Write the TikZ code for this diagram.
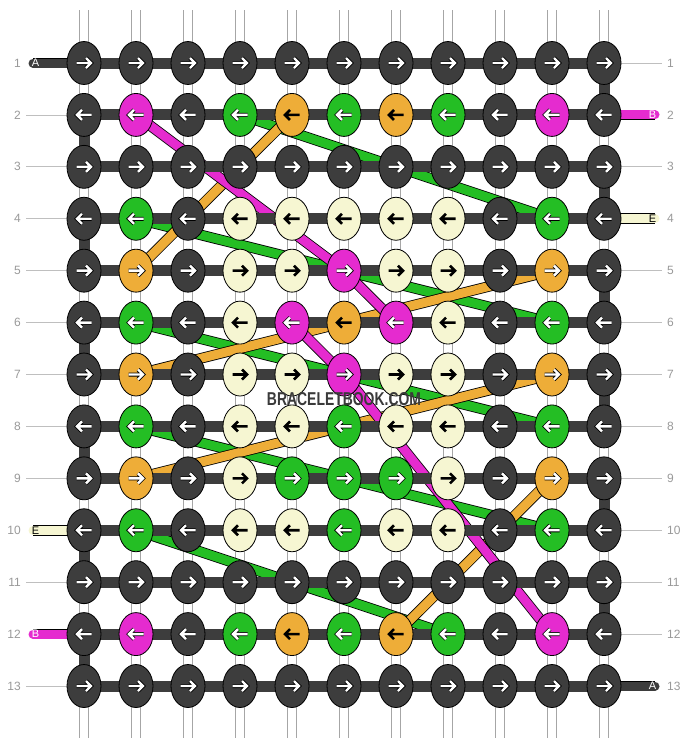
\documentclass[tikz,border=0pt]{standalone}
\usepackage{fontspec}
\setmainfont{Liberation Sans}
\usetikzlibrary{shapes.geometric}

\definecolor{colD}{HTML}{3D3D3D}
\definecolor{colM}{HTML}{E52BCF}
\definecolor{colG}{HTML}{24BE24}
\definecolor{colO}{HTML}{EEAD38}
\definecolor{colP}{HTML}{EEAD38}
\definecolor{colC}{HTML}{F6F6D2}
\definecolor{labelgrey}{HTML}{999999}
\definecolor{logogrey}{HTML}{3A3A3A}

\pgfdeclarelayer{strings}
\pgfdeclarelayer{diag}
\pgfdeclarelayer{bars}
\pgfsetlayers{strings,diag,bars,main}

\newcommand{\logotext}{\resizebox{154pt}{13pt}{\bfseries BRACELETBOOK.COM}}

\tikzset{
  knot/.style={ellipse, draw=black, line width=0.8pt, minimum width=34pt, minimum height=43pt, inner sep=0pt},
  warp/.style={draw=white, line width=8.6pt, line cap=round, preaction={draw=black!35, line width=10.4pt}},
  bar/.style={draw=colD, line width=11pt},
  diagline/.style={line width=9pt, preaction={draw=black, line width=10.6pt}},
  endline/.style={line width=9pt, line cap=round, preaction={draw=black, line width=10.6pt}},
  whitearrow/.style={draw=white, line width=2.4pt, preaction={draw=black, line width=4pt}},
  blackarrow/.style={draw=black, line width=2.6pt},
  arrD/.style={whitearrow}, arrM/.style={whitearrow}, arrG/.style={whitearrow},
  arrO/.style={whitearrow}, arrC/.style={blackarrow}, arrP/.style={blackarrow},
  rowlabel/.style={text=labelgrey, font=\fontsize{12}{12}\selectfont, inner sep=0pt},
  endletter/.style={font=\fontsize{11}{11}\selectfont, inner sep=0pt},
  gridline/.style={draw=black!25, line width=0.8pt}
}

\begin{document}
\begin{tikzpicture}[x=1pt, y=-1pt]
  \useasboundingbox (0,0) rectangle (688,748);

  % Knoten setzen (D dunkel, M magenta, G gruen, O/P orange, C creme)
  \foreach \r/\row in {1/{D,D,D,D,D,D,D,D,D,D,D}, 2/{D,M,D,G,P,G,P,G,D,M,D},
      3/{D,D,D,D,D,D,D,D,D,D,D}, 4/{D,G,D,C,C,C,C,C,D,G,D},
      5/{D,O,D,C,C,M,C,C,D,O,D}, 6/{D,G,D,C,M,P,M,C,D,G,D},
      7/{D,O,D,C,C,M,C,C,D,O,D}, 8/{D,G,D,C,C,G,C,C,D,G,D},
      9/{D,O,D,C,G,G,G,C,D,O,D}, 10/{D,G,D,C,C,G,C,C,D,G,D},
      11/{D,D,D,D,D,D,D,D,D,D,D}, 12/{D,M,D,G,P,G,P,G,D,M,D},
      13/{D,D,D,D,D,D,D,D,D,D,D}}{
    \pgfmathsetmacro\dir{isodd(\r) ? 1 : -1}
    \foreach \k [count=\c] in \row {
      \node[knot, fill=col\k] (k-\r-\c) at ({84+52*(\c-1)}, {63+51.917*(\r-1)}) {};
      \begin{scope}[shift={(k-\r-\c.center)}, xscale=\dir]
        \draw[arr\k] (-7.5,0) -- (7,0) (2,-5) -- (7,0) -- (2,5);
      \end{scope}
    }
  }

  % Enden der senkrechten Faeden
  \foreach \c in {1,...,11} {
    \coordinate (top-\c) at ({84+52*(\c-1)}, 10);
    \coordinate (bot-\c) at ({84+52*(\c-1)}, 738);
  }

  % Zeilennummern
  \foreach \r in {1,...,13} {
    \node[rowlabel, anchor=east] (ll-\r) at (21, {63+51.917*(\r-1)}) {\r};
    \node[rowlabel, anchor=west] (rl-\r) at (667, {63+51.917*(\r-1)}) {\r};
  }

  \begin{pgfonlayer}{strings}
    % senkrechte Faeden
    \foreach \c in {1,...,11}
      \draw[warp] (top-\c) -- (bot-\c);
    % Hilfslinien zu den Nummern
    \foreach \r in {2,...,9,11,13}
      \draw[gridline] ([xshift=5pt]ll-\r.east) -- (k-\r-1.west);
    \foreach \r in {1,3,5,6,7,8,9,10,11,12}
      \draw[gridline] (k-\r-11.east) -- ([xshift=-5pt]rl-\r.west);
  \end{pgfonlayer}

  \begin{pgfonlayer}{diag}
    % schraege Faeden
    \foreach \a/\b in {2-4/4-10, 4-2/6-10, 6-2/8-10, 8-2/10-10, 10-2/12-8}
      \draw[diagline, draw=colG] (k-\a.center) -- (k-\b.center);
    \foreach \a/\b in {2-5/5-2, 5-10/7-2, 7-10/9-2, 9-10/12-7}
      \draw[diagline, draw=colO] (k-\a.center) -- (k-\b.center);
    \foreach \a/\b in {2-2/5-6, 5-6/6-7, 6-5/7-6, 7-6/12-10}
      \draw[diagline, draw=colM] (k-\a.center) -- (k-\b.center);
  \end{pgfonlayer}

  \begin{pgfonlayer}{bars}
    % waagerechter Faden und Wendestellen
    \foreach \r in {1,...,13}
      \draw[bar] (k-\r-1.center) -- (k-\r-11.center);
    \foreach \r [evaluate=\r as \s using int(\r+1)] in {2,4,...,12}
      \draw[bar] (k-\r-1.center) -- (k-\s-1.center);
    \foreach \r [evaluate=\r as \s using int(\r+1)] in {1,3,...,11}
      \draw[bar] (k-\r-11.center) -- (k-\s-11.center);
    % lose Fadenenden
    \foreach \r/\k in {1/D, 10/C, 12/M} {
      \coordinate (el-\r) at (33, {63+51.917*(\r-1)});
      \draw[endline, draw=col\k] (el-\r) -- (k-\r-1.center);
    }
    \foreach \r/\k in {2/M, 4/C, 13/D} {
      \coordinate (er-\r) at (655, {63+51.917*(\r-1)});
      \draw[endline, draw=col\k] (er-\r) -- (k-\r-11.center);
    }
  \end{pgfonlayer}

  % Buchstaben an den Enden
  \foreach \r/\t/\lc in {1/A/white, 10/E/black, 12/B/white}
    \node[endletter, text=\lc] (lt-\r) at (35.5, {63+51.917*(\r-1)}) {\t};
  \foreach \r/\t/\lc in {2/B/white, 4/E/black, 13/A/white}
    \node[endletter, text=\lc] (rt-\r) at (652.5, {63+51.917*(\r-1)}) {\t};

  % Schriftzug
  \node[text=logogrey, inner sep=0pt] (logo) at (344,399) {\logotext};
\end{tikzpicture}
\end{document}
